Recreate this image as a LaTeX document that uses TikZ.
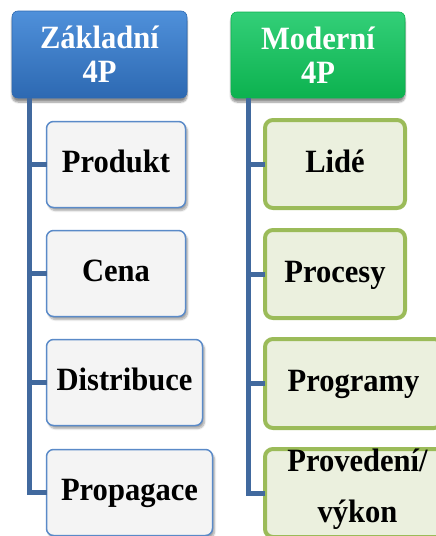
\documentclass[tikz,border=0pt]{standalone}
\usepackage{fontspec}
\setmainfont{Liberation Serif}[FakeStretch=0.94]
\usetikzlibrary{shadows.blur}

\definecolor{hdrBlueTop}{HTML}{4F90DA}
\definecolor{hdrBlueBot}{HTML}{2D69B2}
\definecolor{hdrGreenTop}{HTML}{33CF78}
\definecolor{hdrGreenBot}{HTML}{0CB24F}
\definecolor{trunkBlue}{HTML}{41699E}
\definecolor{boxBlueLine}{HTML}{5A8AC8}
\definecolor{boxGrey}{HTML}{F4F4F4}
\definecolor{boxGreenLine}{HTML}{9BBB59}
\definecolor{boxGreenFill}{HTML}{EBF0DE}

\tikzset{
  x=1pt, y=-1pt,
  every node/.style={font=\fontsize{32.5}{34}\selectfont\bfseries, inner sep=0pt, outer sep=0pt},
  header/.style={rounded corners=6pt, align=center, text=white,
    blur shadow={shadow xshift=0pt, shadow yshift=-4pt, shadow blur steps=8, shadow opacity=45}},
  bluehdr/.style={header, top color=hdrBlueTop, bottom color=hdrBlueBot, draw=hdrBlueBot, line width=0.6pt},
  greenhdr/.style={header, top color=hdrGreenTop, bottom color=hdrGreenBot, draw=hdrGreenBot, line width=0.6pt},
  itembox/.style={rounded corners=7pt, text height=22pt, text depth=6pt},
  leftbox/.style={itembox, fill=boxGrey, draw=boxBlueLine, line width=1.5pt,
    blur shadow={shadow xshift=2pt, shadow yshift=-3pt, shadow blur steps=6, shadow opacity=35}},
  rightbox/.style={itembox, rounded corners=8pt, fill=boxGreenFill, draw=boxGreenLine, line width=4pt},
  conn/.style={draw=trunkBlue, line width=5pt},
}

\begin{document}
\begin{tikzpicture}
\useasboundingbox (0,0) rectangle (436,536);
\clip (0,0) rectangle (436,536);

% header boxes
\node[bluehdr, minimum width=175pt, minimum height=87pt] (zakladni) at (99.5,54.5) {Základní\\4P};
\node[greenhdr, minimum width=174pt, minimum height=86pt] (moderni) at (318,55) {Moderní\\4P};

% trunk points below the headers
\coordinate (ltrunk) at ([xshift=17pt]zakladni.south west);
\coordinate (rtrunk) at ([xshift=17pt]moderni.south west);

% left column
\node[leftbox, minimum width=139pt, minimum height=86pt] (produkt) at (116,164.5) {Produkt};
\node[leftbox, minimum width=139pt, minimum height=86pt] (cena) at (116,273.5) {Cena};
\node[leftbox, minimum width=156pt, minimum height=86pt] (distribuce) at (124.5,382.5) {Distribuce};
\node[leftbox, minimum width=166pt, minimum height=86pt] (propagace) at (129.5,492.5) {Propagace};

% right column
\node[rightbox, minimum width=140pt, minimum height=88pt] (lide) at (335,164) {Lidé};
\node[rightbox, minimum width=140pt, minimum height=88pt] (procesy) at (335,274) {Procesy};
\node[rightbox, minimum width=177pt, minimum height=89pt] (programy) at (353.5,383.5) {Programy};
\node[rightbox, minimum width=185pt, minimum height=88pt] (provedeni) at (357.5,493) {};
\node[anchor=base] (provedeniA) at (357.5,471) {Provedení/};
\node[anchor=base] (provedeniB) at (357.5,522) {výkon};

% connectors from each header down to its column of boxes
\draw[conn] (ltrunk) |- (propagace.west);
\foreach \n in {produkt,cena,distribuce}
  \draw[conn] (ltrunk |- \n.west) -- (\n.west);
\draw[conn] (rtrunk) |- (provedeni.west);
\foreach \n in {lide,procesy,programy}
  \draw[conn] (rtrunk |- \n.west) -- (\n.west);
\end{tikzpicture}
\end{document}
